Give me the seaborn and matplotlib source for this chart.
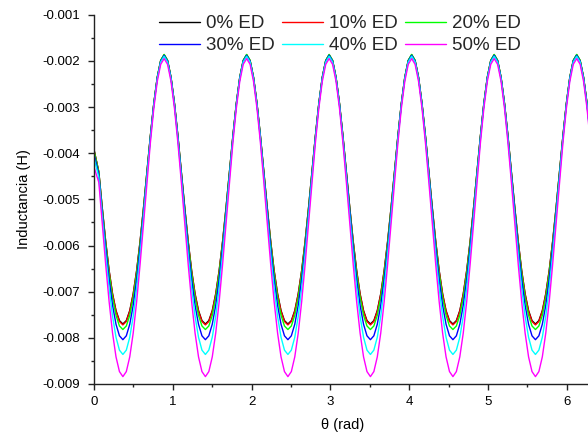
import numpy as np
import pandas as pd
import matplotlib
matplotlib.use("Agg")
import matplotlib.pyplot as plt
import seaborn as sns
from matplotlib.ticker import MultipleLocator, FormatStrFormatter

# ---------------- data ----------------
# rotor position in degrees (converted to rad for the axis)
theta_deg = [0,
    3.5, 6, 8.5, 11, 13.5, 16, 18.5, 21, 23.5, 26, 28.5, 31, 33.5, 36, 38.5, 41, 43.5, 46, 48.5, 51, 53.5, 56, 58.5,
    61, 63.5, 66, 68.5, 71, 73.5, 76, 78.5, 81, 83.5, 86, 88.5, 91, 93.5, 96, 98.5, 101, 103.5, 106, 108.5, 111, 113.5, 116, 118.5,
    121, 123.5, 126, 128.5, 131, 133.5, 136, 138.5, 141, 143.5, 146, 148.5, 151, 153.5, 156, 158.5, 161, 163.5, 166, 168.5, 171, 173.5, 176, 178.5,
    181, 183.5, 186, 188.5, 191, 193.5, 196, 198.5, 201, 203.5, 206, 208.5, 211, 213.5, 216, 218.5, 221, 223.5, 226, 228.5, 231, 233.5, 236, 238.5,
    241, 243.5, 246, 248.5, 251, 253.5, 256, 258.5, 261, 263.5, 266, 268.5, 271, 273.5, 276, 278.5, 281, 283.5, 286, 288.5, 291, 293.5, 296, 298.5,
    301, 303.5, 306, 308.5, 311, 313.5, 316, 318.5, 321, 323.5, 326, 328.5, 331, 333.5, 336, 338.5, 341, 343.5, 346, 348.5, 351, 353.5, 356, 358.5,
    360]

# inductance values in mH
L_0 = [-3.92,
    -4.404, -5.185, -5.913, -6.543, -7.046, -7.409, -7.627, -7.700, -7.627, -7.409, -7.046, -6.543, -5.913, -5.185, -4.404, -3.628, -2.924, -2.361, -1.996, -1.870, -1.996, -2.361, -2.924,
    -3.628, -4.404, -5.185, -5.913, -6.543, -7.046, -7.409, -7.627, -7.700, -7.627, -7.409, -7.046, -6.543, -5.913, -5.185, -4.404, -3.628, -2.924, -2.361, -1.996, -1.870, -1.996, -2.361, -2.924,
    -3.628, -4.404, -5.185, -5.913, -6.543, -7.046, -7.409, -7.627, -7.700, -7.627, -7.409, -7.046, -6.543, -5.913, -5.185, -4.404, -3.628, -2.924, -2.361, -1.996, -1.870, -1.996, -2.361, -2.924,
    -3.628, -4.404, -5.185, -5.913, -6.543, -7.046, -7.409, -7.627, -7.700, -7.627, -7.409, -7.046, -6.543, -5.913, -5.185, -4.404, -3.628, -2.924, -2.361, -1.996, -1.870, -1.996, -2.361, -2.924,
    -3.628, -4.404, -5.185, -5.913, -6.543, -7.046, -7.409, -7.627, -7.700, -7.627, -7.409, -7.046, -6.543, -5.913, -5.185, -4.404, -3.628, -2.924, -2.361, -1.996, -1.870, -1.996, -2.361, -2.924,
    -3.628, -4.404, -5.185, -5.913, -6.543, -7.046, -7.409, -7.627, -7.700, -7.627, -7.409, -7.046, -6.543, -5.913, -5.185, -4.404, -3.628, -2.924, -2.361, -1.996, -1.870, -1.996, -2.361, -2.924,
    -3.346]

L_10 = [-3.93,
    -4.407, -5.190, -5.921, -6.554, -7.061, -7.426, -7.646, -7.720, -7.646, -7.426, -7.061, -6.554, -5.921, -5.190, -4.407, -3.629, -2.924, -2.361, -1.996, -1.870, -1.996, -2.361, -2.924,
    -3.629, -4.407, -5.190, -5.921, -6.554, -7.061, -7.426, -7.646, -7.720, -7.646, -7.426, -7.061, -6.554, -5.921, -5.190, -4.407, -3.629, -2.924, -2.361, -1.996, -1.870, -1.996, -2.361, -2.924,
    -3.629, -4.407, -5.190, -5.921, -6.554, -7.061, -7.426, -7.646, -7.720, -7.646, -7.426, -7.061, -6.554, -5.921, -5.190, -4.407, -3.629, -2.924, -2.361, -1.996, -1.870, -1.996, -2.361, -2.924,
    -3.629, -4.407, -5.190, -5.921, -6.554, -7.061, -7.426, -7.646, -7.720, -7.646, -7.426, -7.061, -6.554, -5.921, -5.190, -4.407, -3.629, -2.924, -2.361, -1.996, -1.870, -1.996, -2.361, -2.924,
    -3.629, -4.407, -5.190, -5.921, -6.554, -7.061, -7.426, -7.646, -7.720, -7.646, -7.426, -7.061, -6.554, -5.921, -5.190, -4.407, -3.629, -2.924, -2.361, -1.996, -1.870, -1.996, -2.361, -2.924,
    -3.629, -4.407, -5.190, -5.921, -6.554, -7.061, -7.426, -7.646, -7.720, -7.646, -7.426, -7.061, -6.554, -5.921, -5.190, -4.407, -3.629, -2.924, -2.361, -1.996, -1.870, -1.996, -2.361, -2.924,
    -3.347]

L_20 = [-3.94,
    -4.412, -5.208, -5.955, -6.606, -7.131, -7.512, -7.743, -7.820, -7.743, -7.512, -7.131, -6.606, -5.955, -5.208, -4.412, -3.626, -2.917, -2.352, -1.986, -1.860, -1.986, -2.352, -2.917,
    -3.626, -4.412, -5.208, -5.955, -6.606, -7.131, -7.512, -7.743, -7.820, -7.743, -7.512, -7.131, -6.606, -5.955, -5.208, -4.412, -3.626, -2.917, -2.352, -1.986, -1.860, -1.986, -2.352, -2.917,
    -3.626, -4.412, -5.208, -5.955, -6.606, -7.131, -7.512, -7.743, -7.820, -7.743, -7.512, -7.131, -6.606, -5.955, -5.208, -4.412, -3.626, -2.917, -2.352, -1.986, -1.860, -1.986, -2.352, -2.917,
    -3.626, -4.412, -5.208, -5.955, -6.606, -7.131, -7.512, -7.743, -7.820, -7.743, -7.512, -7.131, -6.606, -5.955, -5.208, -4.412, -3.626, -2.917, -2.352, -1.986, -1.860, -1.986, -2.352, -2.917,
    -3.626, -4.412, -5.208, -5.955, -6.606, -7.131, -7.512, -7.743, -7.820, -7.743, -7.512, -7.131, -6.606, -5.955, -5.208, -4.412, -3.626, -2.917, -2.352, -1.986, -1.860, -1.986, -2.352, -2.917,
    -3.626, -4.412, -5.208, -5.955, -6.606, -7.131, -7.512, -7.743, -7.820, -7.743, -7.512, -7.131, -6.606, -5.955, -5.208, -4.412, -3.626, -2.917, -2.352, -1.986, -1.860, -1.986, -2.352, -2.917,
    -3.342]

L_30 = [-4.02,
    -4.459, -5.278, -6.054, -6.739, -7.296, -7.706, -7.956, -8.040, -7.956, -7.706, -7.296, -6.739, -6.054, -5.278, -4.459, -3.659, -2.941, -2.373, -2.006, -1.880, -2.006, -2.373, -2.941,
    -3.659, -4.459, -5.278, -6.054, -6.739, -7.296, -7.706, -7.956, -8.040, -7.956, -7.706, -7.296, -6.739, -6.054, -5.278, -4.459, -3.659, -2.941, -2.373, -2.006, -1.880, -2.006, -2.373, -2.941,
    -3.659, -4.459, -5.278, -6.054, -6.739, -7.296, -7.706, -7.956, -8.040, -7.956, -7.706, -7.296, -6.739, -6.054, -5.278, -4.459, -3.659, -2.941, -2.373, -2.006, -1.880, -2.006, -2.373, -2.941,
    -3.659, -4.459, -5.278, -6.054, -6.739, -7.296, -7.706, -7.956, -8.040, -7.956, -7.706, -7.296, -6.739, -6.054, -5.278, -4.459, -3.659, -2.941, -2.373, -2.006, -1.880, -2.006, -2.373, -2.941,
    -3.659, -4.459, -5.278, -6.054, -6.739, -7.296, -7.706, -7.956, -8.040, -7.956, -7.706, -7.296, -6.739, -6.054, -5.278, -4.459, -3.659, -2.941, -2.373, -2.006, -1.880, -2.006, -2.373, -2.941,
    -3.659, -4.459, -5.278, -6.054, -6.739, -7.296, -7.706, -7.956, -8.040, -7.956, -7.706, -7.296, -6.739, -6.054, -5.278, -4.459, -3.659, -2.941, -2.373, -2.006, -1.880, -2.006, -2.373, -2.941,
    -3.372]

L_40 = [-4.10,
    -4.521, -5.373, -6.193, -6.927, -7.535, -7.987, -8.266, -8.360, -8.266, -7.987, -7.535, -6.927, -6.193, -5.373, -4.521, -3.697, -2.968, -2.394, -2.026, -1.900, -2.026, -2.394, -2.968,
    -3.697, -4.521, -5.373, -6.193, -6.927, -7.535, -7.987, -8.266, -8.360, -8.266, -7.987, -7.535, -6.927, -6.193, -5.373, -4.521, -3.697, -2.968, -2.394, -2.026, -1.900, -2.026, -2.394, -2.968,
    -3.697, -4.521, -5.373, -6.193, -6.927, -7.535, -7.987, -8.266, -8.360, -8.266, -7.987, -7.535, -6.927, -6.193, -5.373, -4.521, -3.697, -2.968, -2.394, -2.026, -1.900, -2.026, -2.394, -2.968,
    -3.697, -4.521, -5.373, -6.193, -6.927, -7.535, -7.987, -8.266, -8.360, -8.266, -7.987, -7.535, -6.927, -6.193, -5.373, -4.521, -3.697, -2.968, -2.394, -2.026, -1.900, -2.026, -2.394, -2.968,
    -3.697, -4.521, -5.373, -6.193, -6.927, -7.535, -7.987, -8.266, -8.360, -8.266, -7.987, -7.535, -6.927, -6.193, -5.373, -4.521, -3.697, -2.968, -2.394, -2.026, -1.900, -2.026, -2.394, -2.968,
    -3.697, -4.521, -5.373, -6.193, -6.927, -7.535, -7.987, -8.266, -8.360, -8.266, -7.987, -7.535, -6.927, -6.193, -5.373, -4.521, -3.697, -2.968, -2.394, -2.026, -1.900, -2.026, -2.394, -2.968,
    -3.405]

L_50 = [-4.30,
    -4.630, -5.530, -6.413, -7.219, -7.898, -8.412, -8.731, -8.840, -8.731, -8.412, -7.898, -7.219, -6.413, -5.530, -4.630, -3.774, -3.027, -2.446, -2.076, -1.950, -2.076, -2.446, -3.027,
    -3.774, -4.630, -5.530, -6.413, -7.219, -7.898, -8.412, -8.731, -8.840, -8.731, -8.412, -7.898, -7.219, -6.413, -5.530, -4.630, -3.774, -3.027, -2.446, -2.076, -1.950, -2.076, -2.446, -3.027,
    -3.774, -4.630, -5.530, -6.413, -7.219, -7.898, -8.412, -8.731, -8.840, -8.731, -8.412, -7.898, -7.219, -6.413, -5.530, -4.630, -3.774, -3.027, -2.446, -2.076, -1.950, -2.076, -2.446, -3.027,
    -3.774, -4.630, -5.530, -6.413, -7.219, -7.898, -8.412, -8.731, -8.840, -8.731, -8.412, -7.898, -7.219, -6.413, -5.530, -4.630, -3.774, -3.027, -2.446, -2.076, -1.950, -2.076, -2.446, -3.027,
    -3.774, -4.630, -5.530, -6.413, -7.219, -7.898, -8.412, -8.731, -8.840, -8.731, -8.412, -7.898, -7.219, -6.413, -5.530, -4.630, -3.774, -3.027, -2.446, -2.076, -1.950, -2.076, -2.446, -3.027,
    -3.774, -4.630, -5.530, -6.413, -7.219, -7.898, -8.412, -8.731, -8.840, -8.731, -8.412, -7.898, -7.219, -6.413, -5.530, -4.630, -3.774, -3.027, -2.446, -2.076, -1.950, -2.076, -2.446, -3.027,
    -3.475]

series_names = ["0% ED", "10% ED", "20% ED", "30% ED", "40% ED", "50% ED"]
series_values = [L_0, L_10, L_20, L_30, L_40, L_50]
series_colors = ["#000000", "#FF0000", "#00FF00", "#0000FF", "#00FFFF", "#FF00FF"]

# ---------------- build long table ----------------
frames = []
for name, vals in zip(series_names, series_values):
    assert len(vals) == len(theta_deg), (name, len(vals))
    frames.append(pd.DataFrame({
        "theta": np.deg2rad(theta_deg),
        "L": np.array(vals) * 1e-3,
        "serie": name,
    }))
df = pd.concat(frames, ignore_index=True)

# ---------------- style ----------------
sns.set_theme(style="ticks")
plt.rcParams["font.family"] = ["Liberation Sans", "DejaVu Sans"]
plt.rcParams["axes.unicode_minus"] = False

fig = plt.figure(figsize=(5.88, 4.38), dpi=100)
ax = fig.add_axes([94 / 588, 54 / 438, 496.4 / 588, 369.3 / 438])

sns.lineplot(data=df, x="theta", y="L", hue="serie", hue_order=series_names,
             palette=dict(zip(series_names, series_colors)),
             estimator=None, errorbar=None, sort=False, linewidth=1.0, ax=ax)

ax.set_xlim(0, 6.3)
ax.set_ylim(-0.009, -0.001)
ax.xaxis.set_major_locator(MultipleLocator(1))
ax.xaxis.set_minor_locator(MultipleLocator(0.5))
ax.yaxis.set_major_locator(MultipleLocator(0.001))
ax.yaxis.set_minor_locator(MultipleLocator(0.0005))
ax.yaxis.set_major_formatter(FormatStrFormatter("%.3f"))
ax.xaxis.set_major_formatter(FormatStrFormatter("%d"))

for side in ["top", "right"]:
    ax.spines[side].set_visible(False)
for side in ["left", "bottom"]:
    ax.spines[side].set_color("#222222")
    ax.spines[side].set_linewidth(1.0)

ax.tick_params(which="major", direction="out", length=4.3, width=1.0,
               color="#222222", labelsize=9.5, labelcolor="black")
ax.tick_params(axis="y", which="major", pad=6.0)
ax.tick_params(axis="x", which="major", pad=4.5)
ax.tick_params(which="minor", direction="out", length=2.2, width=1.0, color="#222222")

ax.set_xlabel("\u03b8 (rad)", fontsize=10.5, color="black")
ax.set_ylabel("Inductancia (H)", fontsize=10.5, color="black")
ax.xaxis.set_label_coords(0.5, -0.093)
ax.yaxis.set_label_coords(-0.126, 0.5)

# legend: 2 rows x 3 columns, row-wise order
handles, labels = ax.get_legend_handles_labels()
ax.get_legend().remove()
lut = dict(zip(labels, handles))
order = ["0% ED", "30% ED", "10% ED", "40% ED", "20% ED", "50% ED"]
leg = ax.legend([lut[l] for l in order], order, ncol=3, frameon=False,
                loc="upper left", bbox_to_anchor=(159 / 588, 1 - 15 / 438),
                bbox_transform=fig.transFigure, fontsize=13.5,
                handlelength=2.2, handletextpad=0.32, columnspacing=0.37,
                labelspacing=0.26, borderpad=0, borderaxespad=0)
for line in leg.get_lines():
    line.set_linewidth(1.0)

fig.savefig("out.png", dpi=100)
